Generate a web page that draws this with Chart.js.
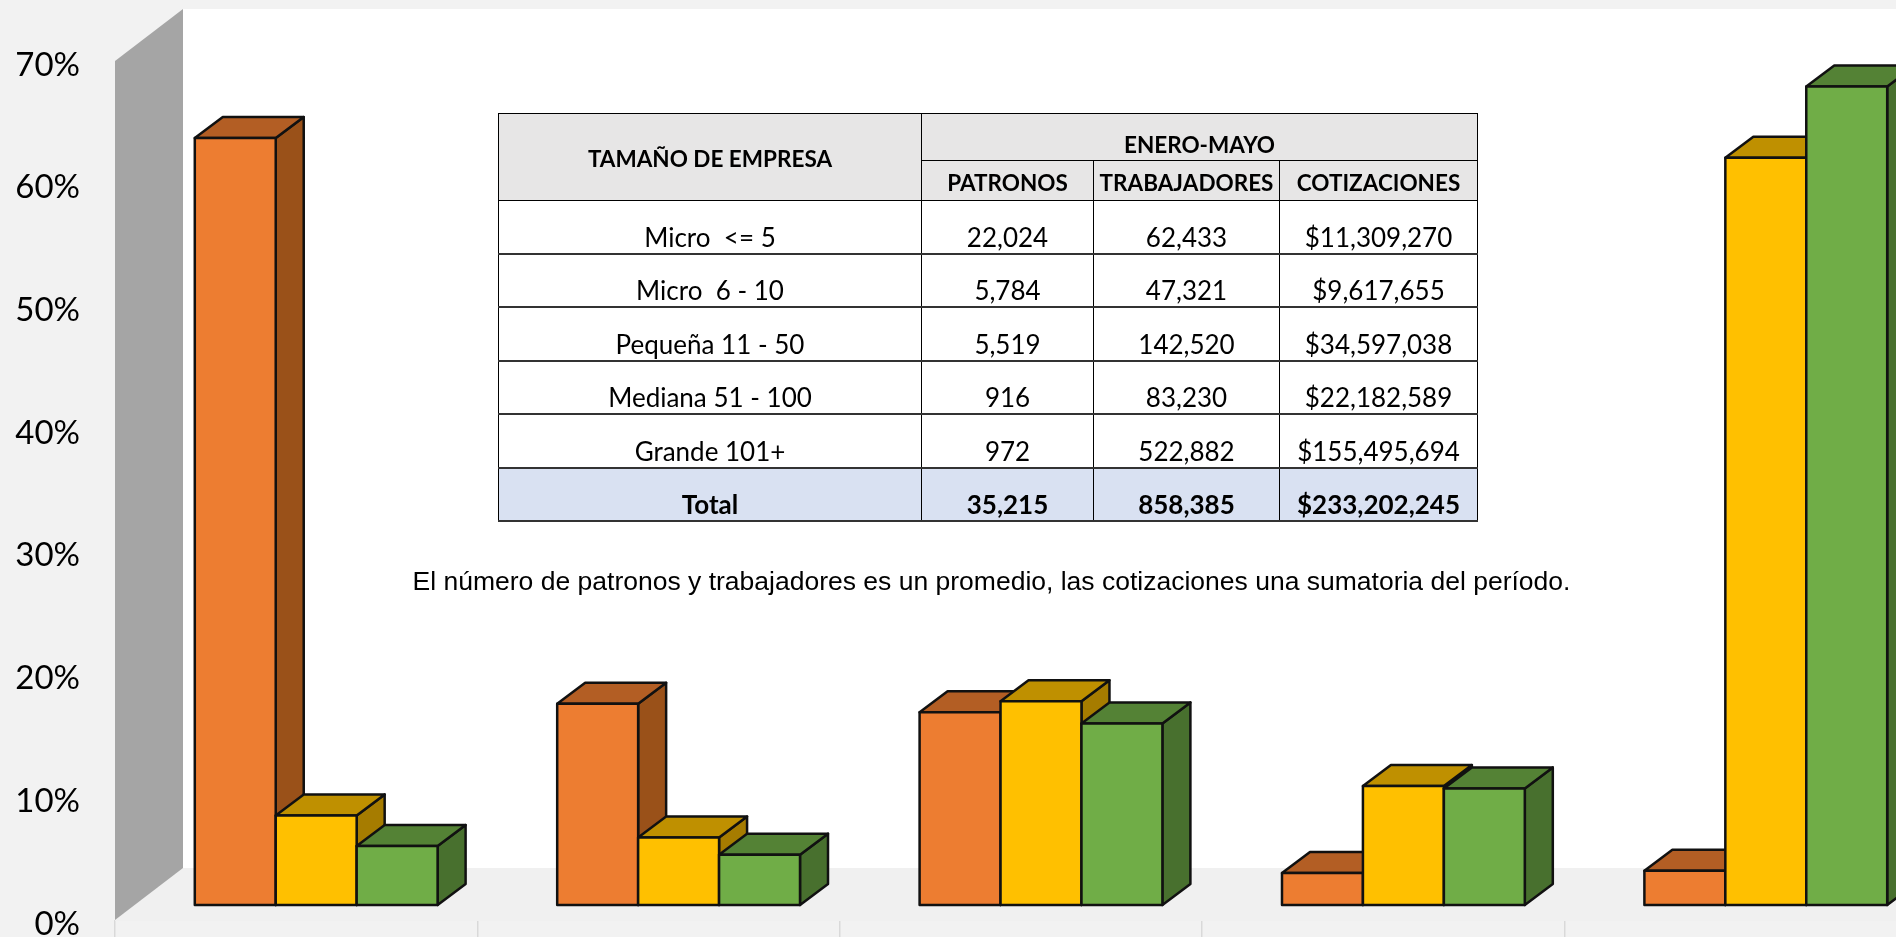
<!DOCTYPE html>
<html lang="es">
<head>
<meta charset="utf-8">
<title>Tamaño de empresa</title>
<script src="https://cdn.jsdelivr.net/npm/chart.js@4"></script>
<style>
  html, body { margin: 0; padding: 0; background: #f2f2f2; overflow: hidden; }
  #stage { position: relative; width: 1896px; height: 937px; overflow: hidden; }
  #chart { position: absolute; left: 0; top: 0; }
  #sizeTable {
    position: absolute; left: 498px; top: 113px; width: 979px;
    border-collapse: collapse; table-layout: fixed;
    font-family: Lato, sans-serif; font-size: 26px; color: #000; text-align: center;
  }
  #sizeTable td, #sizeTable th {
    border: 1px solid #000; padding: 0 0 1px; vertical-align: bottom;
    line-height: 30px; white-space: pre;
  }
  #sizeTable td { border-bottom: 2px solid #333; }
  #sizeTable th { background: #e7e6e6; font-size: 22.5px; font-weight: 700; vertical-align: middle; padding: 4px 0 0; }
  #sizeTable th.group { padding-top: 16px; }
  #sizeTable .total td { background: #d9e1f2; font-weight: 700; }
  #note {
    position: absolute; left: 400px; top: 566px; width: 1183px; text-align: center;
    font-family: "Liberation Sans", Arial, sans-serif; font-size: 26.5px; line-height: 30px; color: #000; white-space: nowrap;
  }
</style>
</head>
<body>
<div id="stage">
  <canvas id="chart" width="1960" height="1000" style="width:1960px;height:1000px"></canvas>
  <table id="sizeTable">
    <colgroup><col style="width:423px"><col style="width:172px"><col style="width:186px"><col style="width:198px"></colgroup>
    <thead id="tableHead"></thead>
    <tbody id="tableBody"></tbody>
  </table>
  <div id="note">El número de patronos y trabajadores es un promedio, las cotizaciones una sumatoria del período.</div>
</div>
<script>
const categories = ['Micro  <= 5', 'Micro  6 - 10', 'Pequeña 11 - 50', 'Mediana 51 - 100', 'Grande 101+'];
const patronos = [62.5, 16.4, 15.7, 2.6, 2.8];
const trabajadores = [7.3, 5.5, 16.6, 9.7, 60.9];
const cotizaciones = [4.8, 4.1, 14.8, 9.5, 66.7];
const yMax = 70;
const yStep = 10;

const tableGroupHeader = 'ENERO-MAYO';
const tableFirstHeader = 'TAMAÑO DE EMPRESA';
const tableHeaders = ['PATRONOS', 'TRABAJADORES', 'COTIZACIONES'];
const tablePatronos = ['22,024', '5,784', '5,519', '916', '972'];
const tableTrabajadores = ['62,433', '47,321', '142,520', '83,230', '522,882'];
const tableCotizaciones = ['$11,309,270', '$9,617,655', '$34,597,038', '$22,182,589', '$155,495,694'];
const tableTotals = ['Total', '35,215', '858,385', '$233,202,245'];

// depth of the walls and of each box, in pixels
const wallDepth = { x: 68, y: -52 };
const barShift = { x: 20, y: -15 };
const boxDepth = { x: 28, y: -21 };

const faceColors = [
  { top: '#b35e24', side: '#9a5119' },
  { top: '#bf9000', side: '#a67c00' },
  { top: '#548235', side: '#48702e' }
];

function polygon(ctx, points, fill) {
  ctx.beginPath();
  points.forEach((p, i) => i ? ctx.lineTo(p[0], p[1]) : ctx.moveTo(p[0], p[1]));
  ctx.closePath();
  ctx.fillStyle = fill;
  ctx.fill();
}

// Gray side wall, white back wall and the floor
const wallsPlugin = {
  id: 'walls',
  beforeDatasetsDraw(chart) {
    const { ctx, chartArea, scales } = chart;
    const left = chartArea.left;
    const y0 = scales.y.getPixelForValue(0);
    const yTop = scales.y.getPixelForValue(yMax);
    const backX = left + wallDepth.x;
    polygon(ctx, [[backX, yTop + wallDepth.y], [chart.width, yTop + wallDepth.y], [chart.width, y0 + wallDepth.y], [backX, y0 + wallDepth.y]], '#ffffff');
    polygon(ctx, [[left, y0], [backX, y0 + wallDepth.y], [chart.width, y0 + wallDepth.y], [chart.width, y0 + 1], [left, y0 + 1]], '#f0f0f0');
    polygon(ctx, [[left, yTop], [backX, yTop + wallDepth.y], [backX, y0 + wallDepth.y], [left, y0]], '#a5a5a5');
  }
};

// Chart.js paints datasets last to first, the boxes have to go first to last,
// so its own pass is skipped and each bar element is drawn from here.
const boxPlugin = {
  id: 'boxes',
  beforeDatasetDraw() {
    return false;
  },
  afterDatasetsDraw(chart) {
    const ctx = chart.ctx;
    ctx.save();
    ctx.translate(barShift.x, barShift.y);
    ctx.lineWidth = 2.5;
    ctx.lineJoin = 'round';
    ctx.strokeStyle = '#111';
    chart.data.datasets.forEach((ds, index) => {
      const colors = faceColors[index];
      chart.getDatasetMeta(index).data.forEach(bar => {
        const l = bar.x - bar.width / 2;
        const r = bar.x + bar.width / 2;
        const side = [[r, bar.y], [r + boxDepth.x, bar.y + boxDepth.y], [r + boxDepth.x, bar.base + boxDepth.y], [r, bar.base]];
        const top = [[l, bar.y], [l + boxDepth.x, bar.y + boxDepth.y], [r + boxDepth.x, bar.y + boxDepth.y], [r, bar.y]];
        polygon(ctx, side, colors.side);
        ctx.stroke();
        polygon(ctx, top, colors.top);
        ctx.stroke();
        bar.draw(ctx);
        ctx.strokeRect(l, bar.y, bar.width, bar.base - bar.y);
      });
    });
    ctx.restore();
  }
};

function makeDataset(label, data, color) {
  return {
    label,
    data,
    backgroundColor: color,
    borderWidth: 0,
    barPercentage: 1,
    categoryPercentage: 0.67
  };
}

new Chart(document.getElementById('chart'), {
  type: 'bar',
  data: {
    labels: categories,
    datasets: [
      makeDataset('Patronos', patronos, '#ed7d31'),
      makeDataset('Trabajadores', trabajadores, '#ffc000'),
      makeDataset('Cotizaciones', cotizaciones, '#70ad47')
    ]
  },
  options: {
    responsive: false,
    animation: false,
    layout: { padding: { top: 61, right: 33, left: 0, bottom: 0 } },
    plugins: { legend: { display: false }, title: { display: false }, tooltip: { enabled: false } },
    scales: {
      x: {
        afterFit(axis) { axis.height = 80; },
        border: { display: false },
        grid: { drawOnChartArea: false, drawTicks: true, tickLength: 17, tickColor: '#d9d9d9', lineWidth: 1.5 },
        ticks: { color: '#000', padding: 3, maxRotation: 0, font: { family: 'Lato', size: 32 } }
      },
      y: {
        min: 0,
        max: yMax,
        afterFit(axis) { axis.width = 115; },
        border: { display: false },
        grid: { display: false },
        ticks: {
          stepSize: yStep,
          padding: 27,
          labelOffset: 4,
          color: '#000',
          font: { family: 'Lato', size: 33 },
          callback: value => value + '%'
        }
      }
    }
  },
  plugins: [wallsPlugin, boxPlugin]
});

// Table on top of the back wall
const headRows = [
  `<tr style="height:47px"><th rowspan="2">${tableFirstHeader}</th><th class="group" colspan="3">${tableGroupHeader}</th></tr>`,
  `<tr style="height:40px">${tableHeaders.map(h => `<th>${h}</th>`).join('')}</tr>`
];
document.getElementById('tableHead').innerHTML = headRows.join('');

const bodyRows = categories.map((name, i) => {
  const cells = [name.replace('<', '&lt;'), tablePatronos[i], tableTrabajadores[i], tableCotizaciones[i]];
  const rowHeight = i === 0 ? 53 : 53.5;
  return `<tr style="height:${rowHeight}px;background:#fff">${cells.map(c => `<td>${c}</td>`).join('')}</tr>`;
});
bodyRows.push(`<tr class="total" style="height:53.5px">${tableTotals.map(c => `<td>${c}</td>`).join('')}</tr>`);
document.getElementById('tableBody').innerHTML = bodyRows.join('');
</script>
</body>
</html>
